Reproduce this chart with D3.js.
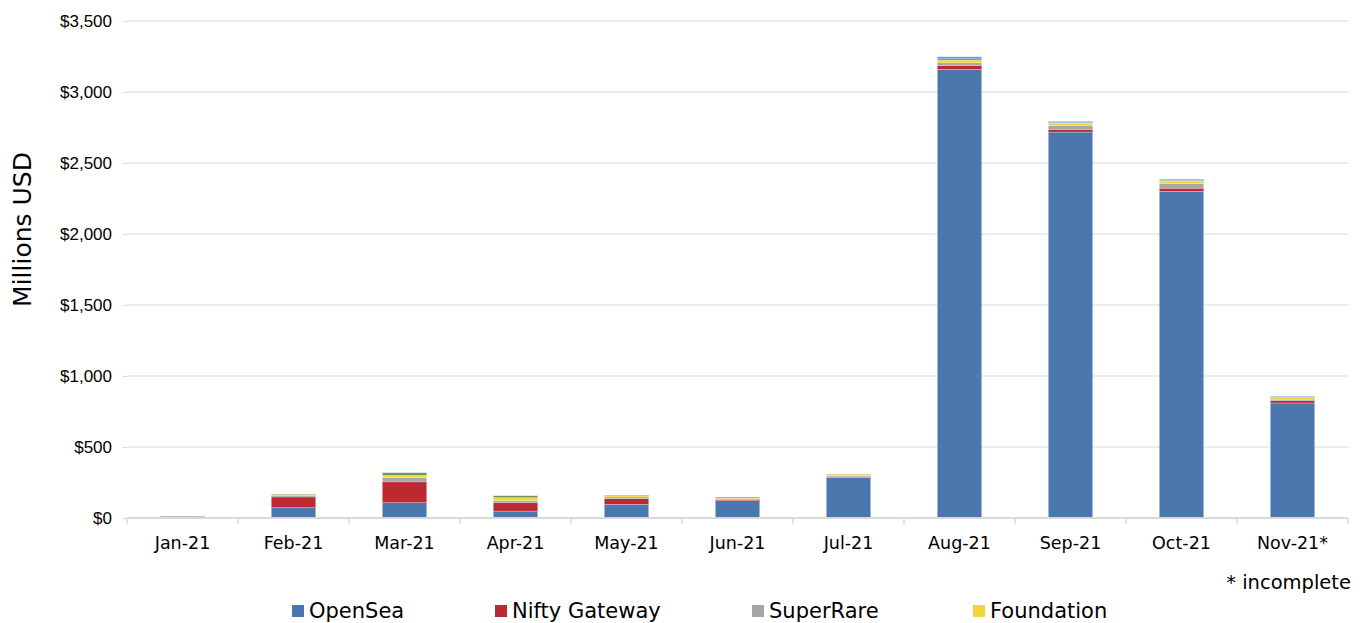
<!DOCTYPE html>
<html>
<head>
<meta charset="utf-8">
<script src="https://cdn.jsdelivr.net/npm/d3@7"></script>
<style>
  html, body { margin: 0; padding: 0; background: #fff; }
  svg { display: block; font-family: 'DejaVu Sans', Verdana, sans-serif; }
</style>
</head>
<body>
<div id="root"></div>
<script>
// monthly NFT marketplace volume, millions USD
const months = ['Jan-21', 'Feb-21', 'Mar-21', 'Apr-21', 'May-21', 'Jun-21', 'Jul-21', 'Aug-21', 'Sep-21', 'Oct-21', 'Nov-21*'];
const openSea = [5, 73, 108, 49, 96, 122, 287, 3160, 2718, 2300, 810];
const niftyGateway = [4, 75, 146, 59, 40, 8, 5, 25, 19, 23, 15];
const superRare = [1, 12, 30, 14, 12, 8, 8, 20, 28, 33, 12];
const foundation = [0, 5, 16, 21, 10, 4, 8, 20, 16, 16, 10];
const knownOrigin = [4, 4, 19, 14, 4, 6, 2, 8, 3, 6, 4];
const makersPlace = [0, 0, 0, 0, 0, 0, 0, 15, 9, 8, 6];

const seriesNames = ['OpenSea', 'Nifty Gateway', 'SuperRare', 'Foundation', 'Known Origin', 'MakersPlace'];
const seriesValues = [openSea, niftyGateway, superRare, foundation, knownOrigin, makersPlace];
const colors = ['#4a77ae', '#bb2a31', '#a6a6a6', '#f2d33b', '#6c9a55', '#5b9fd8'];
const yTicks = [0, 500, 1000, 1500, 2000, 2500, 3000, 3500];

const width = 1364;
const height = 623;
const margin = { top: 21, right: 16, bottom: 105, left: 127 };

// one row per month, one key per marketplace, for d3.stack
const table = months.map((month, i) => {
  const row = { month };
  seriesNames.forEach((name, j) => { row[name] = seriesValues[j][i]; });
  return row;
});
const stacked = d3.stack().keys(seriesNames)(table);

const svg = d3.select('#root').append('svg')
  .attr('width', width)
  .attr('height', height);

const x = d3.scaleBand()
  .domain(months)
  .range([margin.left, width - margin.right])
  .paddingInner(0.6)
  .paddingOuter(0.3);

const y = d3.scaleLinear()
  .domain([0, 3500])
  .range([height - margin.bottom, margin.top]);

// gridlines
svg.append('g')
  .selectAll('line')
  .data(yTicks.filter(d => d > 0))
  .enter()
  .append('line')
  .attr('x1', margin.left)
  .attr('x2', width - margin.right)
  .attr('y1', d => y(d))
  .attr('y2', d => y(d))
  .attr('stroke', '#d9d9d9')
  .attr('stroke-width', 1);

// y axis: ticks and labels, no spine
const yAxis = svg.append('g')
  .attr('transform', `translate(${margin.left},0)`)
  .call(d3.axisLeft(y).tickValues(yTicks).tickSize(4).tickPadding(11).tickFormat(d => '$' + d3.format(',')(d)));
yAxis.select('.domain').remove();
yAxis.selectAll('line').attr('stroke', '#d9d9d9');
yAxis.selectAll('text').attr('font-size', 17).attr('fill', '#000');

// bars
svg.append('g')
  .selectAll('g')
  .data(stacked)
  .enter()
  .append('g')
  .attr('fill', (d, i) => colors[i])
  .selectAll('rect')
  .data(d => d)
  .enter()
  .append('rect')
  .attr('x', d => x(d.data.month))
  .attr('width', x.bandwidth())
  .attr('y', d => y(d[1]))
  .attr('height', d => y(d[0]) - y(d[1]))
  .attr('stroke', '#fff')
  .attr('stroke-width', 0.25);

// x axis with ticks between categories
const baseY = y(0);
const xAxis = svg.append('g');
xAxis.append('line')
  .attr('x1', margin.left)
  .attr('x2', width - margin.right)
  .attr('y1', baseY)
  .attr('y2', baseY)
  .attr('stroke', '#d9d9d9')
  .attr('stroke-width', 2);
const step = x.step();
xAxis.selectAll('line.tick')
  .data(d3.range(months.length + 1))
  .enter()
  .append('line')
  .attr('class', 'tick')
  .attr('x1', i => margin.left + i * step)
  .attr('x2', i => margin.left + i * step)
  .attr('y1', baseY)
  .attr('y2', baseY + 6)
  .attr('stroke', '#d9d9d9')
  .attr('stroke-width', 1.5);
xAxis.selectAll('text')
  .data(months)
  .enter()
  .append('text')
  .attr('x', d => x(d) + x.bandwidth() / 2)
  .attr('y', baseY + 31)
  .attr('text-anchor', 'middle')
  .attr('font-size', 17.5)
  .text(d => d);

// y title
svg.append('text')
  .attr('transform', `translate(31, ${(y(0) + y(3500)) / 2 - 40}) rotate(-90)`)
  .attr('text-anchor', 'middle')
  .attr('font-size', 25)
  .text('Millions USD');

svg.append('text')
  .attr('x', width - 13)
  .attr('y', 589)
  .attr('text-anchor', 'end')
  .attr('font-size', 19.5)
  .text('* incomplete');

// legend: only the first row fits in the frame, as in the original
const legendX = [292, 495, 752, 973];
const legend = svg.append('g')
  .selectAll('g')
  .data(seriesNames.slice(0, 4))
  .enter()
  .append('g')
  .attr('transform', (d, i) => `translate(${legendX[i]}, 605)`);
legend.append('rect')
  .attr('width', 12)
  .attr('height', 12)
  .attr('fill', (d, i) => colors[i]);
legend.append('text')
  .attr('x', 17)
  .attr('y', 13)
  .attr('font-size', 21)
  .text(d => d);
</script>
</body>
</html>
